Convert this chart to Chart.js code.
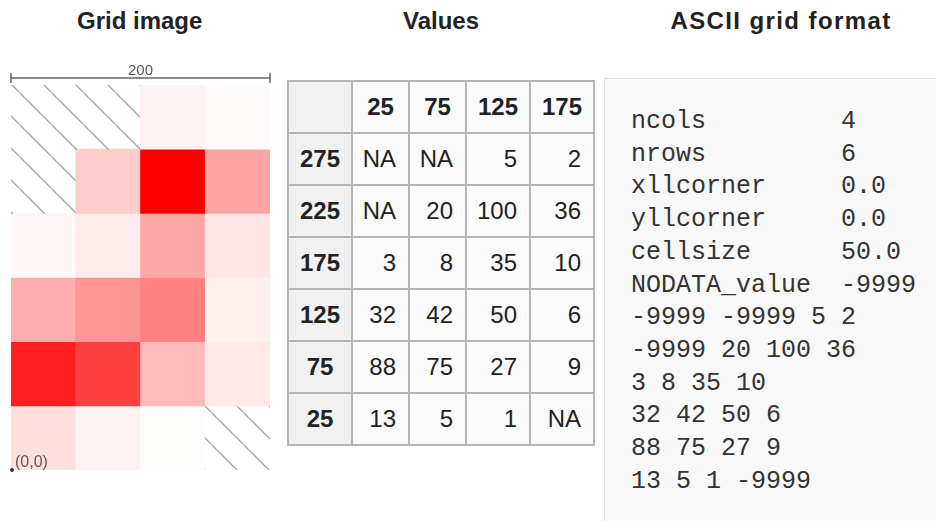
<!DOCTYPE html>
<html>
<head>
<meta charset="utf-8">
<script src="https://cdn.jsdelivr.net/npm/chart.js@4.4.1/dist/chart.umd.min.js"></script>
<style>
  html, body { margin: 0; padding: 0; background: #fff; }
  body { width: 936px; height: 521px; position: relative; overflow: hidden; font-family: 'Liberation Sans', Arial, sans-serif; }
  .title { position: absolute; top: 9px; font-size: 24px; line-height: 24px; font-weight: bold; color: #222; text-align: center; white-space: nowrap; }
  #gridBox { position: absolute; left: 0; top: 60px; width: 280px; height: 430px; }
  #valTable { position: absolute; left: 287px; top: 80px; border-collapse: collapse; table-layout: fixed; width: 306px; font-size: 24px; color: #222; }
  #valTable td, #valTable th { border: 2px solid #b5b5b5; height: 50px; padding: 0 12px 0 0; text-align: right; background: #fafafa; font-weight: normal; }
  #valTable th { text-align: center; padding: 0; font-weight: bold; }
  #valTable th.rowhead { background: #f1f1f1; }
  #asciiBox { position: absolute; left: 604px; top: 78px; width: 340px; height: 460px; background: #f8f8f8; border: 1px solid #dedede; }
  #asciiBox pre { margin: 0; padding: 27px 0 0 26px; font-family: 'Liberation Mono', 'Courier New', monospace; font-size: 25px; line-height: 32.7px; color: #333; }
</style>
</head>
<body>
<div class="title" style="left:77px;width:122px;">Grid image</div>
<div class="title" style="left:390px;width:102px;">Values</div>
<div class="title" style="left:660px;width:242px;letter-spacing:1.4px;">ASCII grid format</div>

<div id="gridBox"><canvas id="gridChart"></canvas></div>
<table id="valTable"></table>
<div id="asciiBox"><pre id="asciiText"></pre></div>

<script>
// grid description
const colCenters = [25, 75, 125, 175];
const rowCenters = [275, 225, 175, 125, 75, 25];
const cellSize = 50;
const xllCorner = 0.0;
const yllCorner = 0.0;
const noDataValue = -9999;

// cell values, top row first (null = NA)
const gridValues = [
    [null, null, 5, 2],
    [null, 20, 100, 36],
    [3, 8, 35, 10],
    [32, 42, 50, 6],
    [88, 75, 27, 9],
    [13, 5, 1, null]
];

const maxValue = 100;

// opaque red ramp on white
function cellColor(v) {
    const c = Math.round(255 - 255 * (v / maxValue));
    return 'rgb(255,' + c + ',' + c + ')';
}

// hatch for NA cells
function makeHatch() {
    const tile = document.createElement('canvas');
    tile.width = 32;
    tile.height = 32;
    const t = tile.getContext('2d');
    t.strokeStyle = '#a2a2a2';
    t.lineWidth = 1.3;
    t.beginPath();
    t.moveTo(19, 0); t.lineTo(51, 32);
    t.moveTo(-13, 0); t.lineTo(19, 32);
    t.stroke();
    return document.getElementById('gridChart').getContext('2d').createPattern(tile, 'repeat');
}
const hatch = makeHatch();

// scale bar + origin marker
const gridDecor = {
    id: 'gridDecor',
    afterDraw(chart) {
        const ctx = chart.ctx;
        const area = chart.chartArea;
        const ys = chart.scales.y;
        const x0 = area.left;
        const x1 = area.right;
        const yb = ys.getPixelForValue(rowCenters.length * cellSize) - 7;
        ctx.save();
        ctx.strokeStyle = '#666';
        ctx.lineWidth = 1.5;
        ctx.beginPath();
        ctx.moveTo(x0, yb); ctx.lineTo(x1, yb);
        ctx.moveTo(x0, yb - 5); ctx.lineTo(x0, yb + 5);
        ctx.moveTo(x1, yb - 5); ctx.lineTo(x1, yb + 5);
        ctx.stroke();
        ctx.fillStyle = '#5a5a5a';
        ctx.font = '15px "Liberation Sans", Arial';
        ctx.textAlign = 'center';
        ctx.textBaseline = 'alphabetic';
        ctx.fillText(String(colCenters.length * cellSize), (x0 + x1) / 2, yb - 3);

        const oy = ys.getPixelForValue(yllCorner);
        ctx.fillStyle = '#333';
        ctx.beginPath();
        ctx.arc(x0 + 1, oy, 2, 0, Math.PI * 2);
        ctx.fill();
        ctx.fillStyle = '#5a5a5a';
        ctx.font = '16px "Liberation Sans", Arial';
        ctx.textAlign = 'left';
        ctx.fillText('(0,0)', x0 + 4, oy - 3);
        ctx.restore();
    }
};

const gridCtx = document.getElementById('gridChart').getContext('2d');
new Chart(gridCtx, {
    type: 'bar',
    data: {
        labels: colCenters.map(String),
        datasets: rowCenters.map((rc, i) => ({
            label: String(rc),
            data: colCenters.map(() => [rc - cellSize / 2, rc + cellSize / 2]),
            backgroundColor: gridValues[i].map(v => v === null ? hatch : cellColor(v)),
            borderWidth: 0,
            grouped: false,
            categoryPercentage: 1,
            barPercentage: 1
        }))
    },
    options: {
        responsive: true,
        maintainAspectRatio: false,
        animation: false,
        scales: {
            x: { display: false },
            y: { display: false, min: 0, max: rowCenters.length * cellSize }
        },
        plugins: {
            legend: { display: false },
            tooltip: { enabled: false }
        },
        layout: {
            padding: { top: 25, bottom: 20, left: 11, right: 10 }
        }
    },
    plugins: [gridDecor]
});

// values table
const table = document.getElementById('valTable');
let html = '<colgroup><col style="width:64px"><col style="width:57px"><col style="width:57px"><col style="width:64px"><col style="width:64px"></colgroup>';
html += '<tr><th class="rowhead"></th>' + colCenters.map(c => '<th>' + c + '</th>').join('') + '</tr>';
rowCenters.forEach((rc, i) => {
    html += '<tr><th class="rowhead">' + rc + '</th>' +
        gridValues[i].map(v => '<td>' + (v === null ? 'NA' : v) + '</td>').join('') + '</tr>';
});
table.innerHTML = html;

// ascii grid text
const header = [
    ['ncols', String(colCenters.length)],
    ['nrows', String(rowCenters.length)],
    ['xllcorner', xllCorner.toFixed(1)],
    ['yllcorner', yllCorner.toFixed(1)],
    ['cellsize', cellSize.toFixed(1)],
    ['NODATA_value', String(noDataValue)]
];
const lines = header.map(h => h[0].padEnd(14, ' ') + h[1]);
gridValues.forEach(row => {
    lines.push(row.map(v => v === null ? noDataValue : v).join(' '));
});
document.getElementById('asciiText').textContent = lines.join('\n');
</script>
</body>
</html>
